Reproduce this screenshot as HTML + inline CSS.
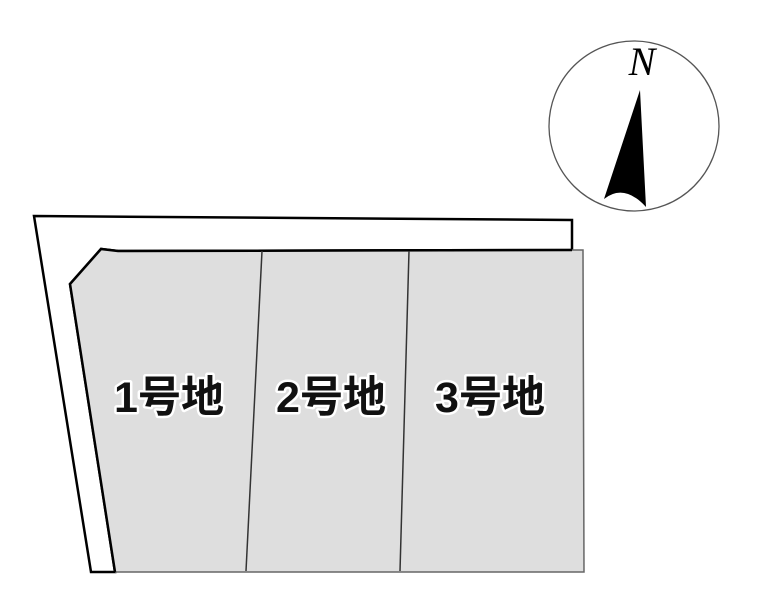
<!DOCTYPE html>
<html><head><meta charset="utf-8"><style>
body{margin:0;background:#fff;width:766px;height:600px;overflow:hidden}
svg{display:block}
</style></head><body>
<svg width="766" height="600" viewBox="0 0 766 600" xmlns="http://www.w3.org/2000/svg">
<polygon points="34,216 572,220 572,250 118,251 101,249 70,284 115,572 91,572" fill="#fff" stroke="#000" stroke-width="2.5" stroke-linejoin="miter"/>
<polygon points="101,249 118,251 572,250 583,250 584,572 115,572 70,284" fill="#dedede" stroke="none"/>
<polyline points="572,250 583,250 584,572 115,572" fill="none" stroke="#666" stroke-width="1.5"/>
<polyline points="115,572 70,284 101,249 118,251 572,250" fill="none" stroke="#000" stroke-width="2.5"/>
<line x1="262" y1="251" x2="246" y2="571" stroke="#333" stroke-width="1.5"/>
<line x1="409" y1="251" x2="400" y2="571" stroke="#333" stroke-width="1.5"/>
<g font-family="'Liberation Sans','Noto Sans CJK JP',sans-serif" font-size="43" font-weight="bold" fill="#111" text-anchor="middle" stroke="#fff" stroke-width="5" paint-order="stroke" stroke-linejoin="round">
<text x="169" y="412">1号地</text>
<text x="331" y="412">2号地</text>
<text x="490" y="412">3号地</text>
</g>
<circle cx="634" cy="126" r="85" fill="#fff" stroke="#555" stroke-width="1.3"/>
<text x="642" y="75" font-family="'Liberation Serif',serif" font-style="italic" font-size="40" text-anchor="middle" fill="#000">N</text>
<path d="M640,90 L604,199 Q624,183 646,207 Z" fill="#000"/>
</svg>
</body></html>
